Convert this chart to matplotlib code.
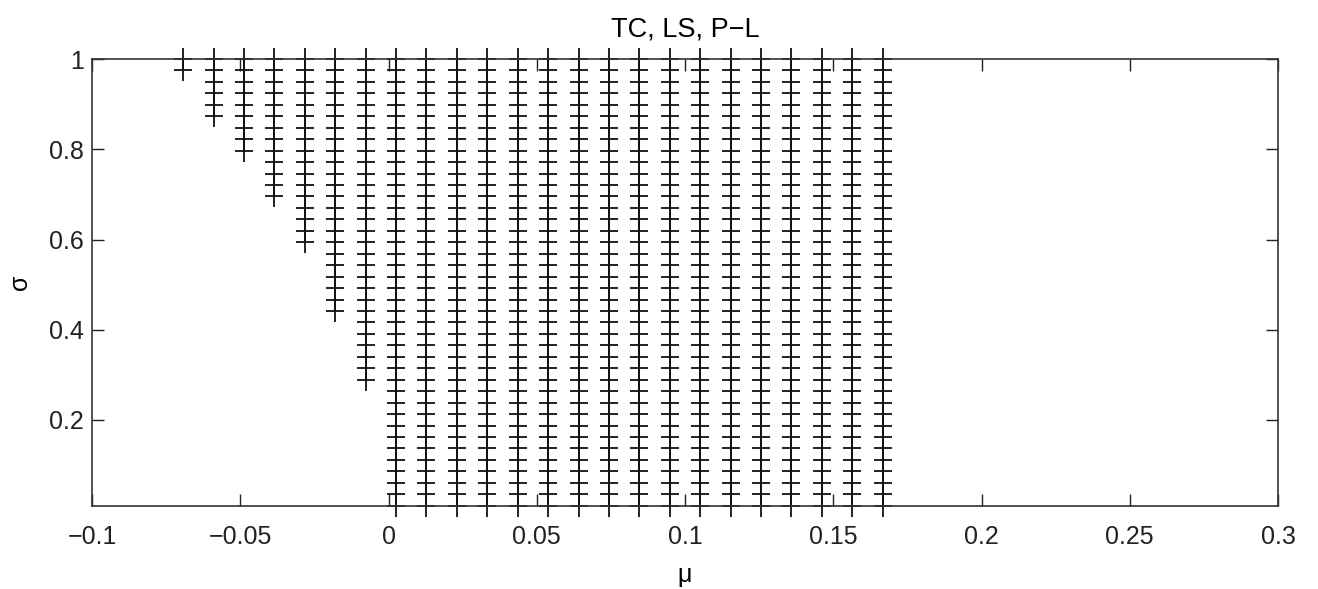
import numpy as np
import matplotlib
matplotlib.use("Agg")
import matplotlib.pyplot as plt
from matplotlib.path import Path

# mu grid columns that contain points
mu_cols = [-0.0692, -0.0590, -0.0487, -0.0385, -0.0282, -0.0179, -0.0077,
           0.0026, 0.0128, 0.0231, 0.0333, 0.0436, 0.0538, 0.0641, 0.0744,
           0.0846, 0.0949, 0.1051, 0.1154, 0.1256, 0.1359, 0.1462, 0.1564,
           0.1667]
# sigma grid levels
sigma_levels = [0.0100, 0.0354, 0.0608, 0.0862, 0.1115, 0.1369, 0.1623, 0.1877,
                0.2131, 0.2385, 0.2638, 0.2892, 0.3146, 0.3400, 0.3654, 0.3908,
                0.4162, 0.4415, 0.4669, 0.4923, 0.5177, 0.5431, 0.5685, 0.5938,
                0.6192, 0.6446, 0.6700, 0.6954, 0.7208, 0.7462, 0.7715, 0.7969,
                0.8223, 0.8477, 0.8731, 0.8985, 0.9238, 0.9492, 0.9746, 1.0000]
# index of the lowest sigma level marked in each column
first_row = [38, 34, 31, 27, 23, 17, 11] + [0] * 17

xticks = [-0.1, -0.05, 0, 0.05, 0.1, 0.15, 0.2, 0.25, 0.3]
xtick_labels = ['\u22120.1', '\u22120.05', '0', '0.05', '0.1', '0.15', '0.2', '0.25', '0.3']
yticks = [0.2, 0.4, 0.6, 0.8, 1.0]
ytick_labels = ['0.2', '0.4', '0.6', '0.8', '1']

plt.rcParams['font.family'] = ['Liberation Sans', 'DejaVu Sans']

xs, ys = [], []
for mu, r0 in zip(mu_cols, first_row):
    for s in sigma_levels[r0:]:
        xs.append(mu)
        ys.append(s)

# plus sign, a bit taller than wide
plus = Path([(-0.77, 0), (0.77, 0), (0, -1), (0, 1)],
            [Path.MOVETO, Path.LINETO, Path.MOVETO, Path.LINETO])

fig = plt.figure(figsize=(13.18, 5.89), dpi=100)
ax = fig.add_axes([0.0698, 0.1414, 0.8999, 0.7584])
ax.plot(xs, ys, linestyle='none', marker=plus, markersize=16,
        markeredgewidth=1.3, color='#111111', clip_on=False)

ax.set_xlim(-0.1, 0.3)
ax.set_ylim(0.01, 1)
ax.set_xticks(xticks)
ax.set_xticklabels(xtick_labels)
ax.set_yticks(yticks)
ax.set_yticklabels(ytick_labels)
ax.tick_params(direction='in', length=8.6, width=1, colors='#222222',
               labelsize=18, top=True, right=True, pad=6)
ax.tick_params(axis='x', pad=14)
for sp in ax.spines.values():
    sp.set_color('#333333')
    sp.set_linewidth(1.2)

ax.set_title('TC, LS, P\u2212L', fontsize=19.5, pad=16)
ax.set_xlabel('\u03bc', fontsize=18, labelpad=10)
ax.set_ylabel('\u03c3', fontsize=18, labelpad=12)

fig.savefig('out.png', dpi=100)
